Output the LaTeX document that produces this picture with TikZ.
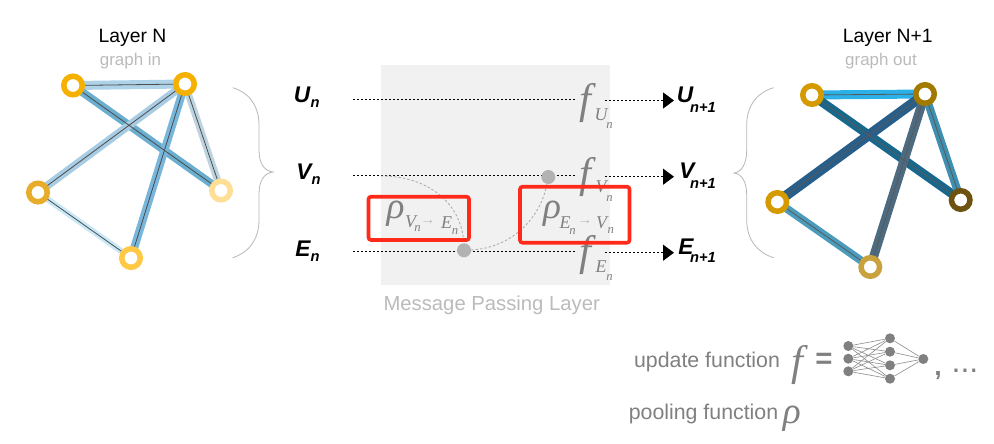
\documentclass[tikz,border=0pt]{standalone}
\usepackage{fontspec}
\setmainfont{Liberation Sans}
\newfontfamily\serifit[ItalicFont={Liberation Serif Italic}]{Liberation Serif}
\usetikzlibrary{arrows.meta}
\newdimen\px \px=0.75pt
\newcommand{\fs}[1]{\fontsize{#1}{#1}\selectfont}
\definecolor{gtxt}{HTML}{808080}
\definecolor{ltxt}{HTML}{BBBBBB}
\definecolor{redbox}{HTML}{FF2A1A}
\definecolor{panel}{HTML}{F1F1F1}
% left graph
\definecolor{la}{HTML}{F5B000}
\definecolor{lc}{HTML}{FFDF96}
\definecolor{ld}{HTML}{E6AC2A}
\definecolor{le}{HTML}{FFC845}
\definecolor{lab}{HTML}{AED3E8}
\definecolor{lac}{HTML}{6AAED0}
\definecolor{lbd}{HTML}{A8CCE4}
\definecolor{lbe}{HTML}{78B7DB}
\definecolor{lbc}{HTML}{BDD4E0}
\definecolor{lde}{HTML}{C9E8F7}
% right graph
\definecolor{ra}{HTML}{D49A00}
\definecolor{rb}{HTML}{A37A00}
\definecolor{rc}{HTML}{6E5210}
\definecolor{re}{HTML}{C9A23E}
\definecolor{rab}{HTML}{2BB0E8}
\definecolor{rac}{HTML}{17688C}
\definecolor{rbd}{HTML}{275E8A}
\definecolor{rbe}{HTML}{4D6B80}
\definecolor{rbc}{HTML}{3F8FB0}
\definecolor{rde}{HTML}{4B9CBC}
\pgfdeclarelayer{backdrop}
\pgfdeclarelayer{edges}
\pgfsetlayers{backdrop,edges,main}
\tikzset{
 lbl/.style={inner sep=0pt,outer sep=0pt,anchor=center},
 title/.style={lbl,font=\fs{14.5},text=black},
 sub/.style={lbl,font=\fs{12.7},text=ltxt},
 vname/.style={lbl,font=\fs{17}\bfseries\itshape,text=black},
 vsub/.style={lbl,font=\fs{11}\bfseries\itshape,text=black},
 bigf/.style={lbl,font=\serifit\itshape\fs{32},text=gtxt},
 bigr/.style={lbl,font=\serifit\itshape\fs{28},text=gtxt},
 mi/.style={lbl,font=\serifit\itshape\fs{13.5},text=gtxt},
 mn/.style={lbl,font=\serifit\itshape\fs{9.5},text=gtxt},
 arrowtxt/.style={lbl,font=\serifit\fs{11},text=ltxt},
 descr/.style={lbl,font=\fs{16},text=gtxt},
 ring/.style={circle,draw=#1,fill=white,line width=5.5\px,minimum size=18.5\px,inner sep=0pt,outer sep=0pt},
 wide/.style n args={2}{draw=#1,line width=#2\px},
 fine/.style={draw=#1,line width=0.8\px},
 dots/.style={line width=1.3\px,dash pattern=on 2\px off 2\px,draw=black},
 dotarrow/.style={dots,-{Triangle[length=8.25pt,width=12pt]}},
 curly/.style={draw=black!28,line width=0.8\px},
 faint/.style={draw=black!32,line width=0.9\px,dash pattern=on 2.4\px off 2\px},
 relay/.style={circle,fill=black!30,minimum size=14\px,inner sep=0pt},
 redframe/.style={draw=redbox,line width=3.6\px,rounded corners=2.5\px},
 nn/.style={circle,fill=gtxt,minimum size=10\px,inner sep=0pt},
 nnline/.style={draw=black!45,line width=0.6\px},
}
\begin{document}
\begin{tikzpicture}[x=0.75pt,y=-0.75pt]
\useasboundingbox (0,0) rectangle (994,443);
\begin{pgfonlayer}{backdrop}
\fill[white] (0,0) rectangle (994,443);
\fill[panel] (381,64.7) rectangle (610,285);
\end{pgfonlayer}
% titles
\node[title] (t1) at (132.5,38) {Layer N};
\node[sub] (g1) at (130.5,61) {graph in};
\node[title] (t2) at (887.7,38) {Layer N+1};
\node[sub] (g2) at (881,61) {graph out};
\node[lbl,font=\fs{15.2},text=ltxt] (mpl) at (491.7,305) {Message Passing Layer};
% left graph
\node[ring=la] (a1) at (73,85.5) {};
\node[ring=la] (b1) at (185,84) {};
\node[ring=lc] (c1) at (221,190.5) {};
\node[ring=ld] (d1) at (38,192.5) {};
\node[ring=le] (e1) at (131,258) {};
% right graph
\node[ring=ra] (a2) at (812,95) {};
\node[ring=rb] (b2) at (925,94) {};
\node[ring=rc] (c2) at (960.7,200) {};
\node[ring=ra] (d2) at (777.3,202) {};
\node[ring=re] (e2) at (870.3,267) {};
\begin{pgfonlayer}{edges}
\foreach \p/\q/\c/\w in {a1/b1/lab/9,a1/c1/lac/8,b1/d1/lbd/8,b1/e1/lbe/8,b1/c1/lbc/7,d1/e1/lde/6,
                          a2/b2/rab/9,a2/c2/rac/9,b2/d2/rbd/10,b2/e2/rbe/9,b2/c2/rbc/8,d2/e2/rde/8}
  \path[wide={\c}{\w}] (\p) -- (\q);
\foreach \p/\q in {a1/b1,a1/c1,b1/d1,b1/e1,b1/c1,d1/e1}
  \path[fine=black!70] (\p) -- (\q);
\foreach \p/\q in {a2/b2,a2/c2,b2/d2,b2/e2,b2/c2,d2/e2}
  \path[fine=black!65] (\p) -- (\q);
\end{pgfonlayer}
% braces
\draw[curly] (232.7,87.7) .. controls (248,92) and (259,105) .. (259,125) -- (259,150)
  .. controls (259,163) and (264,171) .. (273,172)
  .. controls (264,173) and (259,181) .. (259,194) -- (259,220)
  .. controls (259,240) and (248,253) .. (232.7,257.7);
\draw[curly] (773.7,87.7) .. controls (758,92) and (746.7,105) .. (746.7,125) -- (746.7,150)
  .. controls (746.7,163) and (742,172) .. (734,173)
  .. controls (742,174) and (746.7,182) .. (746.7,195) -- (746.7,220)
  .. controls (746.7,240) and (758,253) .. (773.7,257.7);
% state labels
\node[vname] (un) at (302,95) {U};
\node[vsub] (uns) at (315,104) {n};
\node[vname] (vn) at (304,172) {V};
\node[vsub] (vns) at (316,181) {n};
\node[vname] (en) at (303,249) {E};
\node[vsub] (ens) at (315,258) {n};
\node[vname] (un1) at (685,95) {U};
\node[vsub] (un1s) at (703,107) {n+1};
\node[vname] (vn1) at (687,171) {V};
\node[vsub] (vn1s) at (703,183) {n+1};
\node[vname] (en1) at (686,247) {E};
\node[vsub] (en1s) at (703,257) {n+1};
% update functions
\node[bigf] (fu) at (585,103) {f};
\node[mi] (fuU) at (601,114.5) {U};
\node[mn] (fuN) at (609.5,126) {n};
\node[bigf] (fv) at (585,177) {f};
\node[mi] (fvV) at (601,187) {V};
\node[mn] (fvN) at (609.5,199) {n};
\node[bigf] (fe) at (585,255) {f};
\node[mi] (feE) at (601,267) {E};
\node[mn] (feN) at (609.5,278) {n};
% dotted lines
\coordinate (us) at (353,99.7); \coordinate (ul) at (575,99.7);
\coordinate (ur) at (605,100.5); \coordinate (ua) at (674,100.5);
\coordinate (vs) at (353,175.7); \coordinate (vl) at (575,175.7);
\coordinate (vr) at (605,176.7); \coordinate (va) at (674,176.7);
\coordinate (es) at (353,251.7); \coordinate (el) at (575,251.7);
\coordinate (er) at (605,252.7); \coordinate (ea) at (674,252.7);
\draw[dots] (us) -- (ul);
\draw[dotarrow] (ur) -- (ua);
\draw[dots] (vs) -- (vl);
\draw[dotarrow] (vr) -- (va);
\draw[dots] (es) -- (el);
\draw[dotarrow] (er) -- (ea);
% pooling relays
\node[relay] (p1) at (464,250.3) {};
\node[relay] (p2) at (548.3,177) {};
\coordinate (vin) at (381,176);
\draw[faint] (vin) .. controls (430,176) and (462,205) .. (p1);
\draw[faint] (p1) .. controls (510,248) and (540,220) .. (p2);
% pooling labels
\node[bigr] (r1) at (395.5,214) {ρ};
\node[mi] (r1V) at (410.7,221.7) {V};
\node[mn] (r1n) at (417.5,229) {n};
\node[arrowtxt] (r1a) at (428,222) {→};
\node[mi] (r1E) at (446.7,223) {E};
\node[mn] (r1m) at (455,232) {n};
\node[bigr] (r2) at (552,214) {ρ};
\node[mi] (r2E) at (565,223) {E};
\node[mn] (r2n) at (572.5,232) {n};
\node[arrowtxt] (r2a) at (585,222) {→};
\node[mi] (r2V) at (601.7,223) {V};
\node[mn] (r2m) at (610.7,231) {n};
% red frames
\draw[redframe] (368.5,196.7) rectangle (469,240);
\draw[redframe] (520,186.7) rectangle (629.5,242.7);
% legend
\node[descr] (d1t) at (707,362) {update function};
\node[descr] (d2t) at (703.5,414) {pooling function};
\node[bigf] (lf) at (797,365) {f};
\node[lbl,font=\fs{22}\bfseries,text=gtxt] (eq) at (824,361) {=};
\node[bigr] (lr) at (791.7,419) {ρ};
\node[lbl,font=\fs{20}\bfseries,text=gtxt] (cm) at (938,376) {,};
\node[lbl,font=\fs{24},text=gtxt] (dt) at (965,371) {...};
% small network
\foreach \n/\y in {i1/346,i2/358.7,i3/371.3}
  \node[nn] (\n) at (848.3,\y) {};
\foreach \n/\y in {h1/338.3,h2/351.7,h3/365.3,h4/378.7}
  \node[nn] (\n) at (890,\y) {};
\node[nn] (o1) at (923.3,359) {};
\foreach \i in {i1,i2,i3}
  \foreach \h in {h1,h2,h3,h4}
    \draw[nnline] (\i) -- (\h);
\foreach \h in {h1,h2,h3,h4}
  \draw[nnline] (\h) -- (o1);
\end{tikzpicture}
\end{document}
